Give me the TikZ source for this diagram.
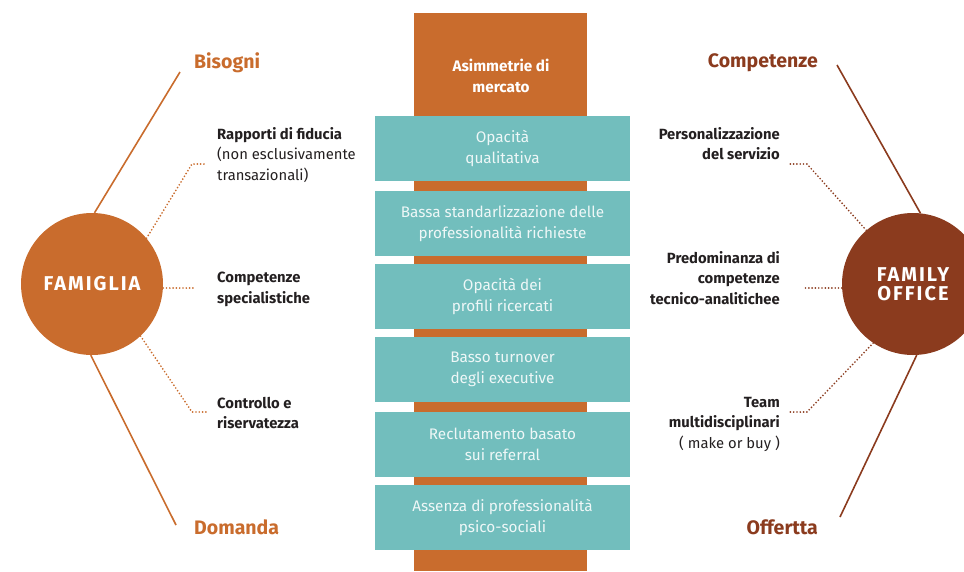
\documentclass[tikz,border=0pt]{standalone}
\usepackage{fontspec}
\setmainfont{Fira Sans}
\newfontfamily\titlefont[LetterSpace=10]{Fira Sans}
\definecolor{orng}{HTML}{C96C2D}
\definecolor{brwn}{HTML}{8B3B1E}
\definecolor{teal2}{HTML}{72BEBD}
\definecolor{txt}{HTML}{231F20}
\definecolor{boxtxt}{HTML}{EEF7F7}
\tikzset{
  tealbox/.style={fill=teal2, minimum width=255pt, minimum height=65pt, inner sep=0pt,
     text=boxtxt, align=center, font=\fontsize{15.3}{21}\selectfont},
  bigcirc/.style={circle, minimum size=142pt, inner sep=0pt, text=white, align=center,
     font=\titlefont\bfseries\fontsize{20}{21}\selectfont},
  heading/.style={font=\bfseries\fontsize{19.5}{20}\selectfont, inner sep=0pt},
  lbl/.style={text=txt, inner sep=0pt, font=\fontsize{14.8}{20.5}\selectfont},
  mainline/.style={line width=1.6pt},
  dotline/.style={line width=1.9pt, line cap=round, dash pattern=on 0pt off 3.3pt},
}
\begin{document}
\begin{tikzpicture}[x=1pt,y=-1pt]
\clip (0,0) rectangle (964,571);
% central column
\fill[orng] (414,13) rectangle (587,571);
\node[text=white, align=center, font=\bfseries\fontsize{15.3}{21}\selectfont] (asim) at (501,76) {Asimmetrie di\\mercato};
\node[tealbox] (b1) at (502.5,148.5) {Opacità\\qualitativa};
\node[tealbox] (b2) at (502.5,223.5) {Bassa standarlizzazione delle\\professionalità richieste};
\node[tealbox] (b3) at (502.5,296.5) {Opacità dei\\profili ricercati};
\node[tealbox] (b4) at (502.5,369.5) {Basso turnover\\degli executive};
\node[tealbox] (b5) at (502.5,444.5) {Reclutamento basato\\sui referral};
\node[tealbox] (b6) at (502.5,517.5) {Assenza di professionalità\\psico-sociali};
% left side
\node[bigcirc, fill=orng] (fam) at (92,284) {FAMIGLIA};
\node[heading, text=orng, anchor=west] (bis) at (194,63) {Bisogni};
\node[heading, text=orng, anchor=west] (dom) at (194,527) {Domanda};
\coordinate (bisend) at (180,72);
\coordinate (domend) at (176,525);
\draw[mainline, orng] (bisend) -- (fam.88);
\draw[mainline, orng] (domend) -- (fam.-91);
\node[lbl, anchor=north west, align=left] (l1) at (217,127) {\textbf{Rapporti di fiducia}\\(non esclusivamente\\transazionali)};
\node[lbl, anchor=north west, align=left] (l2) at (217,272) {\textbf{Competenze}\\\textbf{specialistiche}};
\node[lbl, anchor=north west, align=left] (l3) at (217,397) {\textbf{Controllo e}\\\textbf{riservatezza}};
\coordinate (k1) at (192,164); \coordinate (e1) at (207,164);
\coordinate (e2) at (195,288);
\coordinate (k3) at (192,412); \coordinate (e3) at (207,412);
\draw[dotline, orng] (fam.40) -- (k1) -- (e1);
\draw[dotline, orng] (fam.east |- e2) -- (e2);
\draw[dotline, orng] (fam.-47) -- (k3) -- (e3);
% right side
\node[bigcirc, fill=brwn] (fo) at (913,284) {FAMILY\\[-2pt]OFFICE};
\node[heading, text=brwn, anchor=east] (comp) at (818,63) {Competenze};
\node[heading, text=brwn, anchor=east] (off) at (818,527) {Offertta};
\coordinate (compend) at (837,65);
\coordinate (offend) at (840,517);
\draw[mainline, brwn] (compend) -- (fo.84);
\draw[mainline, brwn] (offend) -- (fo.-87);
\node[lbl, anchor=north east, align=right] (r1) at (780,127) {\textbf{Personalizzazione}\\\textbf{del servizio}};
\node[lbl, anchor=north east, align=right] (r2) at (780,251) {\textbf{Predominanza di}\\\textbf{competenze}\\\textbf{tecnico-analitichee}};
\node[lbl, anchor=north east, align=right] (r3) at (780,397) {\textbf{Team}\\\textbf{multidisciplinari}\\( make or buy )};
\coordinate (rk1) at (807,164); \coordinate (re1) at (789,164);
\coordinate (re2) at (805,288);
\coordinate (rk3) at (807,412); \coordinate (re3) at (789,412);
\draw[dotline, brwn] (fo.131) -- (rk1) -- (re1);
\draw[dotline, brwn] (fo.west |- re2) -- (re2);
\draw[dotline, brwn] (fo.236) -- (rk3) -- (re3);
\end{tikzpicture}
\end{document}
